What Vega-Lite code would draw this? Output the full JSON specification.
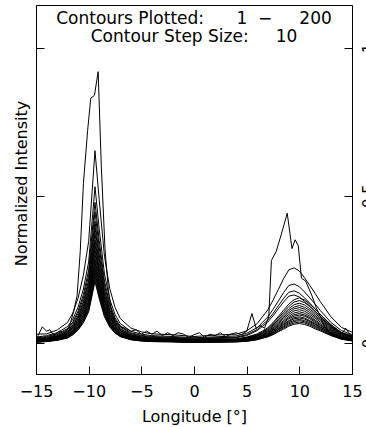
{
"$schema": "https://vega.github.io/schema/vega-lite/v6.json",
"width": 316, "height": 369,
"autosize": {"type": "none"},
"padding": {"left": 36, "top": 5, "right": 14, "bottom": 53},
"background": "white",
"config": {"view": {"stroke": "black", "strokeWidth": 1}, "font": "DejaVu Sans"},
"title": {"text": "Contours Plotted:\u00a0\u00a0\u00a0\u00a0\u00a0\u00a01\u00a0\u00a0\u2212\u00a0\u00a0\u00a0\u00a0\u00a0200", "subtitle": "Contour Step Size:\u00a0\u00a0\u00a0\u00a0\u00a010", "anchor": "middle", "frame": "group", "offset": -41, "fontSize": 17, "subtitleFontSize": 17, "font": "DejaVu Sans", "subtitleFont": "DejaVu Sans", "fontWeight": "normal", "color": "black", "subtitleColor": "black", "subtitlePadding": 1.5},
"datasets": {"c1": [
{"x":-15,"y":0.01},{"x":-14.8,"y":0.025},{"x":-14.4,"y":0.055},{"x":-14,"y":0.04},{"x":-13.7,"y":0.045},{"x":-13.3,"y":0.025},{"x":-12.8,"y":0.04},{"x":-12.3,"y":0.03},{"x":-11.8,"y":0.06},{"x":-11.4,"y":0.11},{"x":-11.1,"y":0.16},{"x":-10.8,"y":0.31},{"x":-10.5,"y":0.54},{"x":-10.1,"y":0.72},{"x":-9.8,"y":0.83},{"x":-9.45,"y":0.84},{"x":-9.1,"y":0.92},{"x":-8.8,"y":0.6},{"x":-8.45,"y":0.32},{"x":-8.13,"y":0.18},{"x":-7.8,"y":0.1},{"x":-7.4,"y":0.07},{"x":-7,"y":0.055},{"x":-6.5,"y":0.05},{"x":-6,"y":0.04},{"x":-5.5,"y":0.045},{"x":-5,"y":0.03},{"x":-4.5,"y":0.04},{"x":-4,"y":0.03},{"x":-3.5,"y":0.04},{"x":-3,"y":0.025},{"x":-2.5,"y":0.035},{"x":-2,"y":0.025},{"x":-1.5,"y":0.035},{"x":-1,"y":0.03},{"x":-0.5,"y":0.02},{"x":0,"y":0.028},{"x":0.5,"y":0.035},{"x":1,"y":0.02},{"x":1.5,"y":0.03},{"x":2,"y":0.025},{"x":2.5,"y":0.035},{"x":3,"y":0.022},{"x":3.5,"y":0.03},{"x":4,"y":0.035},{"x":4.5,"y":0.028},{"x":5,"y":0.04},{"x":5.5,"y":0.1},{"x":5.9,"y":0.05},{"x":6.3,"y":0.06},{"x":6.7,"y":0.05},{"x":7.1,"y":0.09},{"x":7.35,"y":0.28},{"x":7.8,"y":0.31},{"x":8.3,"y":0.37},{"x":8.85,"y":0.44},{"x":9.3,"y":0.32},{"x":9.6,"y":0.35},{"x":9.9,"y":0.33},{"x":10.2,"y":0.22},{"x":10.6,"y":0.21},{"x":11.2,"y":0.16},{"x":11.6,"y":0.12},{"x":12,"y":0.09},{"x":12.5,"y":0.05},{"x":13,"y":0.03},{"x":13.5,"y":0.025},{"x":14,"y":0.03},{"x":14.4,"y":0.05},{"x":14.7,"y":0.035},{"x":15,"y":0.02}
],
"grid": [
{"c":2,"x":-15,"y":0.030},{"c":2,"x":-14,"y":0.031},{"c":2,"x":-13,"y":0.044},{"c":2,"x":-12,"y":0.070},{"c":2,"x":-11.5,"y":0.102},{"c":2,"x":-11,"y":0.153},{"c":2,"x":-10.5,"y":0.230},{"c":2,"x":-10,"y":0.345},{"c":2,"x":-9.4,"y":0.652},{"c":2,"x":-9,"y":0.486},{"c":2,"x":-8.5,"y":0.294},{"c":2,"x":-8,"y":0.185},{"c":2,"x":-7.5,"y":0.121},{"c":2,"x":-7,"y":0.083},{"c":2,"x":-6,"y":0.051},{"c":2,"x":-5,"y":0.038},{"c":2,"x":-4,"y":0.031},{"c":2,"x":-2,"y":0.028},{"c":2,"x":0,"y":0.022},{"c":2,"x":2,"y":0.027},{"c":2,"x":4,"y":0.030},{"c":2,"x":5,"y":0.041},{"c":2,"x":6,"y":0.066},{"c":2,"x":6.5,"y":0.089},{"c":2,"x":7,"y":0.112},{"c":2,"x":7.5,"y":0.145},{"c":2,"x":8,"y":0.181},{"c":2,"x":8.5,"y":0.218},{"c":2,"x":9,"y":0.248},{"c":2,"x":9.5,"y":0.255},{"c":2,"x":10,"y":0.244},{"c":2,"x":10.5,"y":0.221},{"c":2,"x":11,"y":0.195},{"c":2,"x":11.5,"y":0.168},{"c":2,"x":12,"y":0.140},{"c":2,"x":13,"y":0.089},{"c":2,"x":14,"y":0.053},{"c":2,"x":15,"y":0.037},
{"c":3,"x":-15,"y":0.020},{"c":3,"x":-14,"y":0.025},{"c":3,"x":-13,"y":0.035},{"c":3,"x":-12,"y":0.056},{"c":3,"x":-11.5,"y":0.081},{"c":3,"x":-11,"y":0.122},{"c":3,"x":-10.5,"y":0.183},{"c":3,"x":-10,"y":0.275},{"c":3,"x":-9.4,"y":0.530},{"c":3,"x":-9,"y":0.387},{"c":3,"x":-8.5,"y":0.234},{"c":3,"x":-8,"y":0.148},{"c":3,"x":-7.5,"y":0.097},{"c":3,"x":-7,"y":0.066},{"c":3,"x":-6,"y":0.040},{"c":3,"x":-5,"y":0.030},{"c":3,"x":-4,"y":0.025},{"c":3,"x":-2,"y":0.022},{"c":3,"x":0,"y":0.018},{"c":3,"x":2,"y":0.021},{"c":3,"x":4,"y":0.024},{"c":3,"x":5,"y":0.033},{"c":3,"x":6,"y":0.052},{"c":3,"x":6.5,"y":0.070},{"c":3,"x":7,"y":0.088},{"c":3,"x":7.5,"y":0.114},{"c":3,"x":8,"y":0.142},{"c":3,"x":8.5,"y":0.171},{"c":3,"x":9,"y":0.195},{"c":3,"x":9.5,"y":0.200},{"c":3,"x":10,"y":0.191},{"c":3,"x":10.5,"y":0.173},{"c":3,"x":11,"y":0.153},{"c":3,"x":11.5,"y":0.132},{"c":3,"x":12,"y":0.110},{"c":3,"x":13,"y":0.070},{"c":3,"x":14,"y":0.042},{"c":3,"x":15,"y":0.029},
{"c":4,"x":-15,"y":0.017},{"c":4,"x":-14,"y":0.022},{"c":4,"x":-13,"y":0.031},{"c":4,"x":-12,"y":0.049},{"c":4,"x":-11.5,"y":0.072},{"c":4,"x":-11,"y":0.109},{"c":4,"x":-10.5,"y":0.164},{"c":4,"x":-10,"y":0.247},{"c":4,"x":-9.4,"y":0.477},{"c":4,"x":-9,"y":0.348},{"c":4,"x":-8.5,"y":0.210},{"c":4,"x":-8,"y":0.132},{"c":4,"x":-7.5,"y":0.086},{"c":4,"x":-7,"y":0.058},{"c":4,"x":-6,"y":0.035},{"c":4,"x":-5,"y":0.026},{"c":4,"x":-4,"y":0.022},{"c":4,"x":-2,"y":0.019},{"c":4,"x":0,"y":0.016},{"c":4,"x":2,"y":0.018},{"c":4,"x":4,"y":0.020},{"c":4,"x":5,"y":0.028},{"c":4,"x":6,"y":0.046},{"c":4,"x":6.5,"y":0.062},{"c":4,"x":7,"y":0.078},{"c":4,"x":7.5,"y":0.100},{"c":4,"x":8,"y":0.126},{"c":4,"x":8.5,"y":0.151},{"c":4,"x":9,"y":0.172},{"c":4,"x":9.5,"y":0.177},{"c":4,"x":10,"y":0.169},{"c":4,"x":10.5,"y":0.153},{"c":4,"x":11,"y":0.135},{"c":4,"x":11.5,"y":0.116},{"c":4,"x":12,"y":0.097},{"c":4,"x":13,"y":0.062},{"c":4,"x":14,"y":0.036},{"c":4,"x":15,"y":0.025},
{"c":5,"x":-15,"y":0.015},{"c":5,"x":-14,"y":0.019},{"c":5,"x":-13,"y":0.028},{"c":5,"x":-12,"y":0.045},{"c":5,"x":-11.5,"y":0.067},{"c":5,"x":-11,"y":0.101},{"c":5,"x":-10.5,"y":0.153},{"c":5,"x":-10,"y":0.230},{"c":5,"x":-9.4,"y":0.445},{"c":5,"x":-9,"y":0.325},{"c":5,"x":-8.5,"y":0.196},{"c":5,"x":-8,"y":0.123},{"c":5,"x":-7.5,"y":0.080},{"c":5,"x":-7,"y":0.054},{"c":5,"x":-6,"y":0.032},{"c":5,"x":-5,"y":0.024},{"c":5,"x":-4,"y":0.019},{"c":5,"x":-2,"y":0.017},{"c":5,"x":0,"y":0.014},{"c":5,"x":2,"y":0.016},{"c":5,"x":4,"y":0.018},{"c":5,"x":5,"y":0.025},{"c":5,"x":6,"y":0.042},{"c":5,"x":6.5,"y":0.056},{"c":5,"x":7,"y":0.071},{"c":5,"x":7.5,"y":0.092},{"c":5,"x":8,"y":0.116},{"c":5,"x":8.5,"y":0.139},{"c":5,"x":9,"y":0.159},{"c":5,"x":9.5,"y":0.163},{"c":5,"x":10,"y":0.156},{"c":5,"x":10.5,"y":0.141},{"c":5,"x":11,"y":0.125},{"c":5,"x":11.5,"y":0.107},{"c":5,"x":12,"y":0.089},{"c":5,"x":13,"y":0.056},{"c":5,"x":14,"y":0.033},{"c":5,"x":15,"y":0.022},
{"c":6,"x":-15,"y":0.013},{"c":6,"x":-14,"y":0.017},{"c":6,"x":-13,"y":0.025},{"c":6,"x":-12,"y":0.041},{"c":6,"x":-11.5,"y":0.061},{"c":6,"x":-11,"y":0.093},{"c":6,"x":-10.5,"y":0.141},{"c":6,"x":-10,"y":0.213},{"c":6,"x":-9.4,"y":0.413},{"c":6,"x":-9,"y":0.301},{"c":6,"x":-8.5,"y":0.181},{"c":6,"x":-8,"y":0.113},{"c":6,"x":-7.5,"y":0.073},{"c":6,"x":-7,"y":0.049},{"c":6,"x":-6,"y":0.029},{"c":6,"x":-5,"y":0.021},{"c":6,"x":-4,"y":0.017},{"c":6,"x":-2,"y":0.015},{"c":6,"x":0,"y":0.012},{"c":6,"x":2,"y":0.014},{"c":6,"x":4,"y":0.014},{"c":6,"x":5,"y":0.020},{"c":6,"x":6,"y":0.031},{"c":6,"x":6.5,"y":0.041},{"c":6,"x":7,"y":0.052},{"c":6,"x":7.5,"y":0.069},{"c":6,"x":8,"y":0.090},{"c":6,"x":8.5,"y":0.111},{"c":6,"x":9,"y":0.132},{"c":6,"x":9.5,"y":0.147},{"c":6,"x":10,"y":0.153},{"c":6,"x":10.5,"y":0.146},{"c":6,"x":11,"y":0.132},{"c":6,"x":11.5,"y":0.114},{"c":6,"x":12,"y":0.097},{"c":6,"x":13,"y":0.062},{"c":6,"x":14,"y":0.034},{"c":6,"x":15,"y":0.023},
{"c":7,"x":-15,"y":0.012},{"c":7,"x":-14,"y":0.016},{"c":7,"x":-13,"y":0.023},{"c":7,"x":-12,"y":0.039},{"c":7,"x":-11.5,"y":0.058},{"c":7,"x":-11,"y":0.088},{"c":7,"x":-10.5,"y":0.134},{"c":7,"x":-10,"y":0.202},{"c":7,"x":-9.4,"y":0.392},{"c":7,"x":-9,"y":0.286},{"c":7,"x":-8.5,"y":0.172},{"c":7,"x":-8,"y":0.107},{"c":7,"x":-7.5,"y":0.069},{"c":7,"x":-7,"y":0.046},{"c":7,"x":-6,"y":0.027},{"c":7,"x":-5,"y":0.020},{"c":7,"x":-4,"y":0.016},{"c":7,"x":-2,"y":0.013},{"c":7,"x":0,"y":0.011},{"c":7,"x":2,"y":0.013},{"c":7,"x":4,"y":0.013},{"c":7,"x":5,"y":0.019},{"c":7,"x":6,"y":0.029},{"c":7,"x":6.5,"y":0.038},{"c":7,"x":7,"y":0.049},{"c":7,"x":7.5,"y":0.065},{"c":7,"x":8,"y":0.085},{"c":7,"x":8.5,"y":0.104},{"c":7,"x":9,"y":0.124},{"c":7,"x":9.5,"y":0.139},{"c":7,"x":10,"y":0.144},{"c":7,"x":10.5,"y":0.137},{"c":7,"x":11,"y":0.124},{"c":7,"x":11.5,"y":0.107},{"c":7,"x":12,"y":0.091},{"c":7,"x":13,"y":0.058},{"c":7,"x":14,"y":0.032},{"c":7,"x":15,"y":0.021},
{"c":8,"x":-15,"y":0.011},{"c":8,"x":-14,"y":0.015},{"c":8,"x":-13,"y":0.022},{"c":8,"x":-12,"y":0.036},{"c":8,"x":-11.5,"y":0.054},{"c":8,"x":-11,"y":0.083},{"c":8,"x":-10.5,"y":0.126},{"c":8,"x":-10,"y":0.191},{"c":8,"x":-9.4,"y":0.371},{"c":8,"x":-9,"y":0.270},{"c":8,"x":-8.5,"y":0.162},{"c":8,"x":-8,"y":0.101},{"c":8,"x":-7.5,"y":0.065},{"c":8,"x":-7,"y":0.043},{"c":8,"x":-6,"y":0.025},{"c":8,"x":-5,"y":0.018},{"c":8,"x":-4,"y":0.015},{"c":8,"x":-2,"y":0.012},{"c":8,"x":0,"y":0.010},{"c":8,"x":2,"y":0.012},{"c":8,"x":4,"y":0.012},{"c":8,"x":5,"y":0.017},{"c":8,"x":6,"y":0.027},{"c":8,"x":6.5,"y":0.036},{"c":8,"x":7,"y":0.046},{"c":8,"x":7.5,"y":0.061},{"c":8,"x":8,"y":0.079},{"c":8,"x":8.5,"y":0.098},{"c":8,"x":9,"y":0.116},{"c":8,"x":9.5,"y":0.130},{"c":8,"x":10,"y":0.135},{"c":8,"x":10.5,"y":0.129},{"c":8,"x":11,"y":0.116},{"c":8,"x":11.5,"y":0.100},{"c":8,"x":12,"y":0.085},{"c":8,"x":13,"y":0.054},{"c":8,"x":14,"y":0.030},{"c":8,"x":15,"y":0.020},
{"c":9,"x":-15,"y":0.010},{"c":9,"x":-14,"y":0.013},{"c":9,"x":-13,"y":0.020},{"c":9,"x":-12,"y":0.034},{"c":9,"x":-11.5,"y":0.051},{"c":9,"x":-11,"y":0.078},{"c":9,"x":-10.5,"y":0.119},{"c":9,"x":-10,"y":0.180},{"c":9,"x":-9.4,"y":0.350},{"c":9,"x":-9,"y":0.255},{"c":9,"x":-8.5,"y":0.153},{"c":9,"x":-8,"y":0.095},{"c":9,"x":-7.5,"y":0.061},{"c":9,"x":-7,"y":0.041},{"c":9,"x":-6,"y":0.024},{"c":9,"x":-5,"y":0.017},{"c":9,"x":-4,"y":0.013},{"c":9,"x":-2,"y":0.011},{"c":9,"x":0,"y":0.009},{"c":9,"x":2,"y":0.011},{"c":9,"x":4,"y":0.011},{"c":9,"x":5,"y":0.016},{"c":9,"x":6,"y":0.025},{"c":9,"x":6.5,"y":0.033},{"c":9,"x":7,"y":0.043},{"c":9,"x":7.5,"y":0.057},{"c":9,"x":8,"y":0.074},{"c":9,"x":8.5,"y":0.092},{"c":9,"x":9,"y":0.110},{"c":9,"x":9.5,"y":0.122},{"c":9,"x":10,"y":0.127},{"c":9,"x":10.5,"y":0.121},{"c":9,"x":11,"y":0.110},{"c":9,"x":11.5,"y":0.094},{"c":9,"x":12,"y":0.080},{"c":9,"x":13,"y":0.051},{"c":9,"x":14,"y":0.028},{"c":9,"x":15,"y":0.018},
{"c":10,"x":-15,"y":0.009},{"c":10,"x":-14,"y":0.012},{"c":10,"x":-13,"y":0.019},{"c":10,"x":-12,"y":0.032},{"c":10,"x":-11.5,"y":0.048},{"c":10,"x":-11,"y":0.074},{"c":10,"x":-10.5,"y":0.113},{"c":10,"x":-10,"y":0.172},{"c":10,"x":-9.4,"y":0.334},{"c":10,"x":-9,"y":0.243},{"c":10,"x":-8.5,"y":0.146},{"c":10,"x":-8,"y":0.090},{"c":10,"x":-7.5,"y":0.058},{"c":10,"x":-7,"y":0.038},{"c":10,"x":-6,"y":0.022},{"c":10,"x":-5,"y":0.016},{"c":10,"x":-4,"y":0.012},{"c":10,"x":-2,"y":0.010},{"c":10,"x":0,"y":0.008},{"c":10,"x":2,"y":0.010},{"c":10,"x":4,"y":0.010},{"c":10,"x":5,"y":0.015},{"c":10,"x":6,"y":0.023},{"c":10,"x":6.5,"y":0.031},{"c":10,"x":7,"y":0.040},{"c":10,"x":7.5,"y":0.053},{"c":10,"x":8,"y":0.070},{"c":10,"x":8.5,"y":0.087},{"c":10,"x":9,"y":0.103},{"c":10,"x":9.5,"y":0.116},{"c":10,"x":10,"y":0.120},{"c":10,"x":10.5,"y":0.115},{"c":10,"x":11,"y":0.103},{"c":10,"x":11.5,"y":0.089},{"c":10,"x":12,"y":0.076},{"c":10,"x":13,"y":0.048},{"c":10,"x":14,"y":0.026},{"c":10,"x":15,"y":0.017},
{"c":11,"x":-15,"y":0.008},{"c":11,"x":-14,"y":0.011},{"c":11,"x":-13,"y":0.017},{"c":11,"x":-12,"y":0.030},{"c":11,"x":-11.5,"y":0.045},{"c":11,"x":-11,"y":0.070},{"c":11,"x":-10.5,"y":0.107},{"c":11,"x":-10,"y":0.163},{"c":11,"x":-9.4,"y":0.318},{"c":11,"x":-9,"y":0.231},{"c":11,"x":-8.5,"y":0.138},{"c":11,"x":-8,"y":0.086},{"c":11,"x":-7.5,"y":0.055},{"c":11,"x":-7,"y":0.036},{"c":11,"x":-6,"y":0.020},{"c":11,"x":-5,"y":0.014},{"c":11,"x":-4,"y":0.011},{"c":11,"x":-2,"y":0.009},{"c":11,"x":0,"y":0.007},{"c":11,"x":2,"y":0.009},{"c":11,"x":4,"y":0.009},{"c":11,"x":5,"y":0.013},{"c":11,"x":6,"y":0.022},{"c":11,"x":6.5,"y":0.029},{"c":11,"x":7,"y":0.037},{"c":11,"x":7.5,"y":0.050},{"c":11,"x":8,"y":0.066},{"c":11,"x":8.5,"y":0.082},{"c":11,"x":9,"y":0.097},{"c":11,"x":9.5,"y":0.109},{"c":11,"x":10,"y":0.113},{"c":11,"x":10.5,"y":0.108},{"c":11,"x":11,"y":0.097},{"c":11,"x":11.5,"y":0.084},{"c":11,"x":12,"y":0.071},{"c":11,"x":13,"y":0.045},{"c":11,"x":14,"y":0.024},{"c":11,"x":15,"y":0.015},
{"c":12,"x":-15,"y":0.007},{"c":12,"x":-14,"y":0.010},{"c":12,"x":-13,"y":0.016},{"c":12,"x":-12,"y":0.028},{"c":12,"x":-11.5,"y":0.042},{"c":12,"x":-11,"y":0.066},{"c":12,"x":-10.5,"y":0.101},{"c":12,"x":-10,"y":0.155},{"c":12,"x":-9.4,"y":0.302},{"c":12,"x":-9,"y":0.219},{"c":12,"x":-8.5,"y":0.131},{"c":12,"x":-8,"y":0.081},{"c":12,"x":-7.5,"y":0.051},{"c":12,"x":-7,"y":0.034},{"c":12,"x":-6,"y":0.019},{"c":12,"x":-5,"y":0.013},{"c":12,"x":-4,"y":0.010},{"c":12,"x":-2,"y":0.008},{"c":12,"x":0,"y":0.006},{"c":12,"x":2,"y":0.008},{"c":12,"x":4,"y":0.008},{"c":12,"x":5,"y":0.012},{"c":12,"x":6,"y":0.020},{"c":12,"x":6.5,"y":0.027},{"c":12,"x":7,"y":0.035},{"c":12,"x":7.5,"y":0.047},{"c":12,"x":8,"y":0.062},{"c":12,"x":8.5,"y":0.076},{"c":12,"x":9,"y":0.091},{"c":12,"x":9.5,"y":0.102},{"c":12,"x":10,"y":0.106},{"c":12,"x":10.5,"y":0.101},{"c":12,"x":11,"y":0.091},{"c":12,"x":11.5,"y":0.078},{"c":12,"x":12,"y":0.066},{"c":12,"x":13,"y":0.042},{"c":12,"x":14,"y":0.022},{"c":12,"x":15,"y":0.014},
{"c":13,"x":-15,"y":0.006},{"c":13,"x":-14,"y":0.009},{"c":13,"x":-13,"y":0.014},{"c":13,"x":-12,"y":0.026},{"c":13,"x":-11.5,"y":0.040},{"c":13,"x":-11,"y":0.062},{"c":13,"x":-10.5,"y":0.096},{"c":13,"x":-10,"y":0.146},{"c":13,"x":-9.4,"y":0.286},{"c":13,"x":-9,"y":0.208},{"c":13,"x":-8.5,"y":0.124},{"c":13,"x":-8,"y":0.076},{"c":13,"x":-7.5,"y":0.048},{"c":13,"x":-7,"y":0.031},{"c":13,"x":-6,"y":0.017},{"c":13,"x":-5,"y":0.012},{"c":13,"x":-4,"y":0.009},{"c":13,"x":-2,"y":0.007},{"c":13,"x":0,"y":0.005},{"c":13,"x":2,"y":0.007},{"c":13,"x":4,"y":0.007},{"c":13,"x":5,"y":0.011},{"c":13,"x":6,"y":0.018},{"c":13,"x":6.5,"y":0.025},{"c":13,"x":7,"y":0.032},{"c":13,"x":7.5,"y":0.044},{"c":13,"x":8,"y":0.058},{"c":13,"x":8.5,"y":0.072},{"c":13,"x":9,"y":0.086},{"c":13,"x":9.5,"y":0.096},{"c":13,"x":10,"y":0.100},{"c":13,"x":10.5,"y":0.095},{"c":13,"x":11,"y":0.086},{"c":13,"x":11.5,"y":0.074},{"c":13,"x":12,"y":0.062},{"c":13,"x":13,"y":0.039},{"c":13,"x":14,"y":0.020},{"c":13,"x":15,"y":0.013},
{"c":14,"x":-15,"y":0.006},{"c":14,"x":-14,"y":0.009},{"c":14,"x":-13,"y":0.014},{"c":14,"x":-12,"y":0.025},{"c":14,"x":-11.5,"y":0.038},{"c":14,"x":-11,"y":0.060},{"c":14,"x":-10.5,"y":0.092},{"c":14,"x":-10,"y":0.140},{"c":14,"x":-9.4,"y":0.274},{"c":14,"x":-9,"y":0.199},{"c":14,"x":-8.5,"y":0.119},{"c":14,"x":-8,"y":0.073},{"c":14,"x":-7.5,"y":0.046},{"c":14,"x":-7,"y":0.030},{"c":14,"x":-6,"y":0.017},{"c":14,"x":-5,"y":0.011},{"c":14,"x":-4,"y":0.009},{"c":14,"x":-2,"y":0.007},{"c":14,"x":0,"y":0.005},{"c":14,"x":2,"y":0.006},{"c":14,"x":4,"y":0.007},{"c":14,"x":5,"y":0.011},{"c":14,"x":6,"y":0.018},{"c":14,"x":6.5,"y":0.024},{"c":14,"x":7,"y":0.031},{"c":14,"x":7.5,"y":0.042},{"c":14,"x":8,"y":0.055},{"c":14,"x":8.5,"y":0.068},{"c":14,"x":9,"y":0.082},{"c":14,"x":9.5,"y":0.091},{"c":14,"x":10,"y":0.095},{"c":14,"x":10.5,"y":0.091},{"c":14,"x":11,"y":0.082},{"c":14,"x":11.5,"y":0.070},{"c":14,"x":12,"y":0.059},{"c":14,"x":13,"y":0.037},{"c":14,"x":14,"y":0.019},{"c":14,"x":15,"y":0.012},
{"c":15,"x":-15,"y":0.005},{"c":15,"x":-14,"y":0.008},{"c":15,"x":-13,"y":0.013},{"c":15,"x":-12,"y":0.023},{"c":15,"x":-11.5,"y":0.036},{"c":15,"x":-11,"y":0.056},{"c":15,"x":-10.5,"y":0.087},{"c":15,"x":-10,"y":0.134},{"c":15,"x":-9.4,"y":0.262},{"c":15,"x":-9,"y":0.190},{"c":15,"x":-8.5,"y":0.113},{"c":15,"x":-8,"y":0.069},{"c":15,"x":-7.5,"y":0.044},{"c":15,"x":-7,"y":0.028},{"c":15,"x":-6,"y":0.015},{"c":15,"x":-5,"y":0.010},{"c":15,"x":-4,"y":0.008},{"c":15,"x":-2,"y":0.006},{"c":15,"x":0,"y":0.004},{"c":15,"x":2,"y":0.005},{"c":15,"x":4,"y":0.006},{"c":15,"x":5,"y":0.009},{"c":15,"x":6,"y":0.016},{"c":15,"x":6.5,"y":0.022},{"c":15,"x":7,"y":0.029},{"c":15,"x":7.5,"y":0.039},{"c":15,"x":8,"y":0.051},{"c":15,"x":8.5,"y":0.064},{"c":15,"x":9,"y":0.076},{"c":15,"x":9.5,"y":0.086},{"c":15,"x":10,"y":0.089},{"c":15,"x":10.5,"y":0.085},{"c":15,"x":11,"y":0.076},{"c":15,"x":11.5,"y":0.066},{"c":15,"x":12,"y":0.055},{"c":15,"x":13,"y":0.034},{"c":15,"x":14,"y":0.018},{"c":15,"x":15,"y":0.011},
{"c":16,"x":-15,"y":0.005},{"c":16,"x":-14,"y":0.008},{"c":16,"x":-13,"y":0.012},{"c":16,"x":-12,"y":0.022},{"c":16,"x":-11.5,"y":0.034},{"c":16,"x":-11,"y":0.054},{"c":16,"x":-10.5,"y":0.083},{"c":16,"x":-10,"y":0.128},{"c":16,"x":-9.4,"y":0.250},{"c":16,"x":-9,"y":0.181},{"c":16,"x":-8.5,"y":0.108},{"c":16,"x":-8,"y":0.066},{"c":16,"x":-7.5,"y":0.042},{"c":16,"x":-7,"y":0.027},{"c":16,"x":-6,"y":0.015},{"c":16,"x":-5,"y":0.010},{"c":16,"x":-4,"y":0.008},{"c":16,"x":-2,"y":0.006},{"c":16,"x":0,"y":0.004},{"c":16,"x":2,"y":0.005},{"c":16,"x":4,"y":0.006},{"c":16,"x":5,"y":0.009},{"c":16,"x":6,"y":0.015},{"c":16,"x":6.5,"y":0.021},{"c":16,"x":7,"y":0.027},{"c":16,"x":7.5,"y":0.037},{"c":16,"x":8,"y":0.049},{"c":16,"x":8.5,"y":0.061},{"c":16,"x":9,"y":0.073},{"c":16,"x":9.5,"y":0.082},{"c":16,"x":10,"y":0.085},{"c":16,"x":10.5,"y":0.081},{"c":16,"x":11,"y":0.073},{"c":16,"x":11.5,"y":0.063},{"c":16,"x":12,"y":0.053},{"c":16,"x":13,"y":0.033},{"c":16,"x":14,"y":0.017},{"c":16,"x":15,"y":0.011},
{"c":17,"x":-15,"y":0.004},{"c":17,"x":-14,"y":0.006},{"c":17,"x":-13,"y":0.011},{"c":17,"x":-12,"y":0.021},{"c":17,"x":-11.5,"y":0.032},{"c":17,"x":-11,"y":0.051},{"c":17,"x":-10.5,"y":0.079},{"c":17,"x":-10,"y":0.122},{"c":17,"x":-9.4,"y":0.239},{"c":17,"x":-9,"y":0.173},{"c":17,"x":-8.5,"y":0.103},{"c":17,"x":-8,"y":0.063},{"c":17,"x":-7.5,"y":0.039},{"c":17,"x":-7,"y":0.025},{"c":17,"x":-6,"y":0.013},{"c":17,"x":-5,"y":0.009},{"c":17,"x":-4,"y":0.006},{"c":17,"x":-2,"y":0.005},{"c":17,"x":0,"y":0.003},{"c":17,"x":2,"y":0.004},{"c":17,"x":4,"y":0.005},{"c":17,"x":5,"y":0.008},{"c":17,"x":6,"y":0.014},{"c":17,"x":6.5,"y":0.019},{"c":17,"x":7,"y":0.025},{"c":17,"x":7.5,"y":0.034},{"c":17,"x":8,"y":0.046},{"c":17,"x":8.5,"y":0.057},{"c":17,"x":9,"y":0.069},{"c":17,"x":9.5,"y":0.077},{"c":17,"x":10,"y":0.080},{"c":17,"x":10.5,"y":0.076},{"c":17,"x":11,"y":0.069},{"c":17,"x":11.5,"y":0.059},{"c":17,"x":12,"y":0.050},{"c":17,"x":13,"y":0.031},{"c":17,"x":14,"y":0.015},{"c":17,"x":15,"y":0.009},
{"c":18,"x":-15,"y":0.004},{"c":18,"x":-14,"y":0.006},{"c":18,"x":-13,"y":0.011},{"c":18,"x":-12,"y":0.020},{"c":18,"x":-11.5,"y":0.031},{"c":18,"x":-11,"y":0.049},{"c":18,"x":-10.5,"y":0.076},{"c":18,"x":-10,"y":0.117},{"c":18,"x":-9.4,"y":0.229},{"c":18,"x":-9,"y":0.166},{"c":18,"x":-8.5,"y":0.099},{"c":18,"x":-8,"y":0.060},{"c":18,"x":-7.5,"y":0.038},{"c":18,"x":-7,"y":0.024},{"c":18,"x":-6,"y":0.013},{"c":18,"x":-5,"y":0.009},{"c":18,"x":-4,"y":0.006},{"c":18,"x":-2,"y":0.005},{"c":18,"x":0,"y":0.003},{"c":18,"x":2,"y":0.004},{"c":18,"x":4,"y":0.005},{"c":18,"x":5,"y":0.008},{"c":18,"x":6,"y":0.013},{"c":18,"x":6.5,"y":0.018},{"c":18,"x":7,"y":0.024},{"c":18,"x":7.5,"y":0.033},{"c":18,"x":8,"y":0.044},{"c":18,"x":8.5,"y":0.054},{"c":18,"x":9,"y":0.065},{"c":18,"x":9.5,"y":0.073},{"c":18,"x":10,"y":0.076},{"c":18,"x":10.5,"y":0.072},{"c":18,"x":11,"y":0.065},{"c":18,"x":11.5,"y":0.056},{"c":18,"x":12,"y":0.047},{"c":18,"x":13,"y":0.029},{"c":18,"x":14,"y":0.015},{"c":18,"x":15,"y":0.009},
{"c":19,"x":-15,"y":0.003},{"c":19,"x":-14,"y":0.005},{"c":19,"x":-13,"y":0.010},{"c":19,"x":-12,"y":0.018},{"c":19,"x":-11.5,"y":0.029},{"c":19,"x":-11,"y":0.046},{"c":19,"x":-10.5,"y":0.072},{"c":19,"x":-10,"y":0.111},{"c":19,"x":-9.4,"y":0.218},{"c":19,"x":-9,"y":0.158},{"c":19,"x":-8.5,"y":0.093},{"c":19,"x":-8,"y":0.057},{"c":19,"x":-7.5,"y":0.035},{"c":19,"x":-7,"y":0.022},{"c":19,"x":-6,"y":0.012},{"c":19,"x":-5,"y":0.007},{"c":19,"x":-4,"y":0.005},{"c":19,"x":-2,"y":0.004},{"c":19,"x":0,"y":0.002},{"c":19,"x":2,"y":0.003},{"c":19,"x":4,"y":0.004},{"c":19,"x":5,"y":0.006},{"c":19,"x":6,"y":0.012},{"c":19,"x":6.5,"y":0.017},{"c":19,"x":7,"y":0.022},{"c":19,"x":7.5,"y":0.030},{"c":19,"x":8,"y":0.040},{"c":19,"x":8.5,"y":0.051},{"c":19,"x":9,"y":0.061},{"c":19,"x":9.5,"y":0.068},{"c":19,"x":10,"y":0.071},{"c":19,"x":10.5,"y":0.068},{"c":19,"x":11,"y":0.061},{"c":19,"x":11.5,"y":0.052},{"c":19,"x":12,"y":0.044},{"c":19,"x":13,"y":0.027},{"c":19,"x":14,"y":0.013},{"c":19,"x":15,"y":0.008},
{"c":20,"x":-15,"y":0.003},{"c":20,"x":-14,"y":0.005},{"c":20,"x":-13,"y":0.009},{"c":20,"x":-12,"y":0.017},{"c":20,"x":-11.5,"y":0.028},{"c":20,"x":-11,"y":0.044},{"c":20,"x":-10.5,"y":0.069},{"c":20,"x":-10,"y":0.106},{"c":20,"x":-9.4,"y":0.208},{"c":20,"x":-9,"y":0.151},{"c":20,"x":-8.5,"y":0.089},{"c":20,"x":-8,"y":0.054},{"c":20,"x":-7.5,"y":0.034},{"c":20,"x":-7,"y":0.022},{"c":20,"x":-6,"y":0.011},{"c":20,"x":-5,"y":0.007},{"c":20,"x":-4,"y":0.005},{"c":20,"x":-2,"y":0.004},{"c":20,"x":0,"y":0.002},{"c":20,"x":2,"y":0.003},{"c":20,"x":4,"y":0.004},{"c":20,"x":5,"y":0.006},{"c":20,"x":6,"y":0.011},{"c":20,"x":6.5,"y":0.016},{"c":20,"x":7,"y":0.021},{"c":20,"x":7.5,"y":0.028},{"c":20,"x":8,"y":0.038},{"c":20,"x":8.5,"y":0.047},{"c":20,"x":9,"y":0.057},{"c":20,"x":9.5,"y":0.064},{"c":20,"x":10,"y":0.066},{"c":20,"x":10.5,"y":0.063},{"c":20,"x":11,"y":0.057},{"c":20,"x":11.5,"y":0.048},{"c":20,"x":12,"y":0.041},{"c":20,"x":13,"y":0.025},{"c":20,"x":14,"y":0.013},{"c":20,"x":15,"y":0.007}
]},
"layer": [
{"data": {"name": "grid"},
 "mark": {"type": "line", "color": "black", "strokeWidth": 1, "clip": true},
 "encoding": {
  "x": {"field": "x", "type": "quantitative", "scale": {"domain": [-15, 15], "nice": false, "zero": false},
        "axis": {"values": [-15, -10, -5, 0, 5, 10, 15], "tickSize": -8, "labelPadding": 17, "labelFontSize": 16, "labelFont": "DejaVu Sans", "labelColor": "black", "tickColor": "black", "domainColor": "black", "grid": false, "labelFlush": false, "labelOverlap": false, "title": "Longitude [°]", "titleFont": "DejaVu Sans", "titleFontSize": 16, "titleFontWeight": "normal", "titleColor": "black", "titlePadding": 9}},
  "y": {"field": "y", "type": "quantitative", "scale": {"domain": [-0.105, 1.146], "nice": false, "zero": false},
        "axis": {"orient": "left", "values": [0, 0.5, 1], "tickSize": -8, "labels": false, "tickColor": "black", "domainColor": "black", "grid": false, "title": "Normalized Intensity", "titleFont": "DejaVu Sans", "titleFontSize": 16, "titleFontWeight": "normal", "titleColor": "black", "titlePadding": 6, "titleY": 178}},
  "detail": {"field": "c", "type": "nominal"}
 }},
{"data": {"name": "c1"},
 "mark": {"type": "line", "color": "black", "strokeWidth": 1, "clip": true},
 "encoding": {
  "x": {"field": "x", "type": "quantitative"},
  "y": {"field": "y", "type": "quantitative",
        "axis": {"orient": "right", "values": [0, 0.5, 1], "format": "~g", "tickSize": -8, "labelPadding": 17, "labelAngle": 270, "labelAlign": "center", "labelBaseline": "top", "labelFontSize": 15, "labelFont": "DejaVu Sans", "labelColor": "black", "tickColor": "black", "domainColor": "black", "grid": false, "title": null}}
 }}
],
"resolve": {"axis": {"y": "independent"}}
}
